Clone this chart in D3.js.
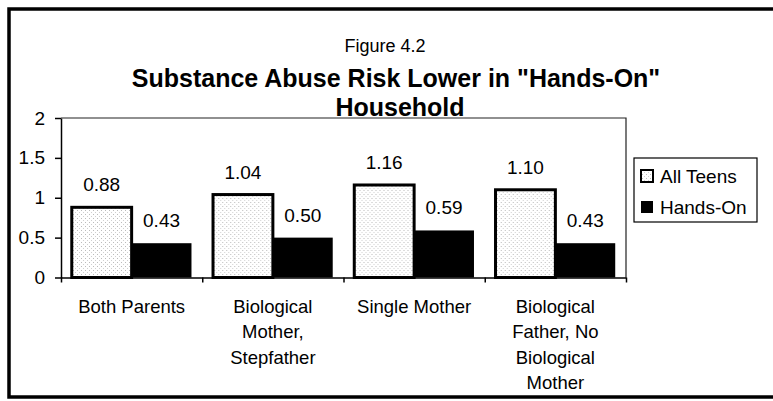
<!DOCTYPE html>
<html lang="en">
<head>
    <meta charset="UTF-8"/>
    <title>Figure 4.2</title>
    <script src="https://d3js.org/d3.v7.min.js"></script>
    <style>
        body {
            margin: 0;
            background: #fff;
        }
        text {
            font-family: "Liberation Sans", Arial, sans-serif;
            fill: #000;
        }
        .axis path,
        .axis line {
            stroke: #000;
            stroke-width: 1.5px;
        }
        .axis text {
            font-size: 19px;
        }
    </style>
</head>
<body>
<div id="chart"></div>
<script>
    // chart data
    const categories = ["Both Parents", "Biological Mother, Stepfather", "Single Mother",
        "Biological Father, No Biological Mother"];
    const categoryLines = [
        ["Both Parents"],
        ["Biological", "Mother,", "Stepfather"],
        ["Single Mother"],
        ["Biological", "Father, No", "Biological", "Mother"]
    ];
    const seriesNames = ["All Teens", "Hands-On"];
    const allTeens = [0.88, 1.04, 1.16, 1.10];
    const handsOn = [0.43, 0.50, 0.59, 0.43];
    const yTicks = [0, 0.5, 1, 1.5, 2];

    const W = 773, H = 401;
    const margin = {top: 118, right: 147, bottom: 123.5, left: 61};
    const width = W - margin.left - margin.right;
    const height = H - margin.top - margin.bottom;

    const root = d3.select("#chart")
        .append("svg")
        .attr("width", W)
        .attr("height", H);

    // speckled fill for the scanned "All Teens" bars
    const pat = root.append("defs").append("pattern")
        .attr("id", "speckle")
        .attr("patternUnits", "userSpaceOnUse")
        .attr("width", 4).attr("height", 4);
    pat.append("rect").attr("width", 4).attr("height", 4).attr("fill", "#fff");
    pat.append("rect").attr("x", 0).attr("y", 0).attr("width", 1).attr("height", 1).attr("fill", "#bbb");
    pat.append("rect").attr("x", 2).attr("y", 2).attr("width", 1).attr("height", 1).attr("fill", "#d0d0d0");

    // outer frame
    root.append("rect")
        .attr("x", 9).attr("y", 9)
        .attr("width", W).attr("height", 388)
        .attr("fill", "none")
        .attr("stroke", "#000")
        .attr("stroke-width", 3.5);

    // titles
    root.append("text")
        .attr("x", 385).attr("y", 52)
        .attr("text-anchor", "middle")
        .style("font-size", "18px")
        .text("Figure 4.2");
    root.append("text")
        .attr("x", 396).attr("y", 87)
        .attr("text-anchor", "middle")
        .style("font-size", "25px")
        .style("font-weight", "bold")
        .text("Substance Abuse Risk Lower in \"Hands-On\"");
    root.append("text")
        .attr("x", 400).attr("y", 116)
        .attr("text-anchor", "middle")
        .style("font-size", "25px")
        .style("font-weight", "bold")
        .text("Household");

    const svg = root.append("g")
        .attr("transform", "translate(" + margin.left + "," + margin.top + ")");

    // scales
    const x = d3.scaleBand()
        .domain(categories)
        .range([0, width])
        .padding(0);
    const xSub = d3.scaleBand()
        .domain(seriesNames)
        .range([0, x.bandwidth()])
        .paddingInner(0)
        .paddingOuter(0.18);
    const xEdge = d3.scaleLinear()
        .domain([0, categories.length])
        .range([0, width]);
    const y = d3.scaleLinear()
        .domain([0, 2])
        .range([height, 0]);

    // plot frame (top and right)
    svg.append("path")
        .attr("d", "M0,0H" + width + "V" + height)
        .attr("fill", "none")
        .attr("stroke", "#222")
        .attr("stroke-width", 1.2);

    // Y axis
    svg.append("g")
        .attr("class", "axis")
        .call(d3.axisLeft(y).tickValues(yTicks).tickFormat(d3.format("")).tickSize(6).tickSizeOuter(0).tickPadding(10));

    // X axis with ticks between categories
    svg.append("g")
        .attr("class", "axis")
        .attr("transform", "translate(0," + height + ")")
        .call(d3.axisBottom(xEdge).ticks(categories.length).tickSize(5).tickSizeOuter(0).tickFormat(""));

    const rows = categories.map(function(c, i) {
        return {cat: c, values: [allTeens[i], handsOn[i]]};
    });

    const groups = svg.selectAll(".grp")
        .data(rows)
        .enter().append("g")
        .attr("class", "grp")
        .attr("transform", function(d) { return "translate(" + x(d.cat) + ",0)"; });

    groups.selectAll("rect")
        .data(function(d) { return d.values.map(function(v, j) { return {s: seriesNames[j], v: v}; }); })
        .enter().append("rect")
        .attr("x", function(d) { return xSub(d.s); })
        .attr("y", function(d) { return y(d.v); })
        .attr("width", xSub.bandwidth())
        .attr("height", function(d) { return height - y(d.v); })
        .attr("fill", function(d) { return d.s === "All Teens" ? "url(#speckle)" : "#000"; })
        .attr("stroke", function(d) { return d.s === "All Teens" ? "#000" : "none"; })
        .attr("stroke-width", 3);

    // value labels
    groups.selectAll(".val")
        .data(function(d) { return d.values.map(function(v, j) { return {s: seriesNames[j], v: v}; }); })
        .enter().append("text")
        .attr("class", "val")
        .attr("x", function(d) { return xSub(d.s) + xSub.bandwidth() / 2; })
        .attr("y", function(d) { return y(d.v) - 16; })
        .attr("text-anchor", "middle")
        .style("font-size", "19px")
        .text(function(d) { return d3.format(".2f")(d.v); });

    // category labels
    categoryLines.forEach(function(lines, i) {
        const t = svg.append("text")
            .attr("text-anchor", "middle")
            .style("font-size", "18.5px");
        lines.forEach(function(l, k) {
            t.append("tspan")
                .attr("x", x(categories[i]) + x.bandwidth() / 2)
                .attr("y", height + 35.5 + k * 25.3)
                .text(l);
        });
    });

    // legend
    const legend = root.append("g").attr("transform", "translate(634,158)");
    legend.append("rect")
        .attr("width", 123).attr("height", 64)
        .attr("fill", "#fff")
        .attr("stroke", "#000")
        .attr("stroke-width", 1.2);
    seriesNames.forEach(function(s, i) {
        legend.append("rect")
            .attr("x", 7).attr("y", 12 + i * 31)
            .attr("width", 12).attr("height", 12)
            .attr("fill", i === 0 ? "url(#speckle)" : "#000")
            .attr("stroke", "#000")
            .attr("stroke-width", i === 0 ? 2 : 0);
        legend.append("text")
            .attr("x", 26).attr("y", 25 + i * 31)
            .style("font-size", "19px")
            .text(s);
    });
</script>
</body>
</html>
